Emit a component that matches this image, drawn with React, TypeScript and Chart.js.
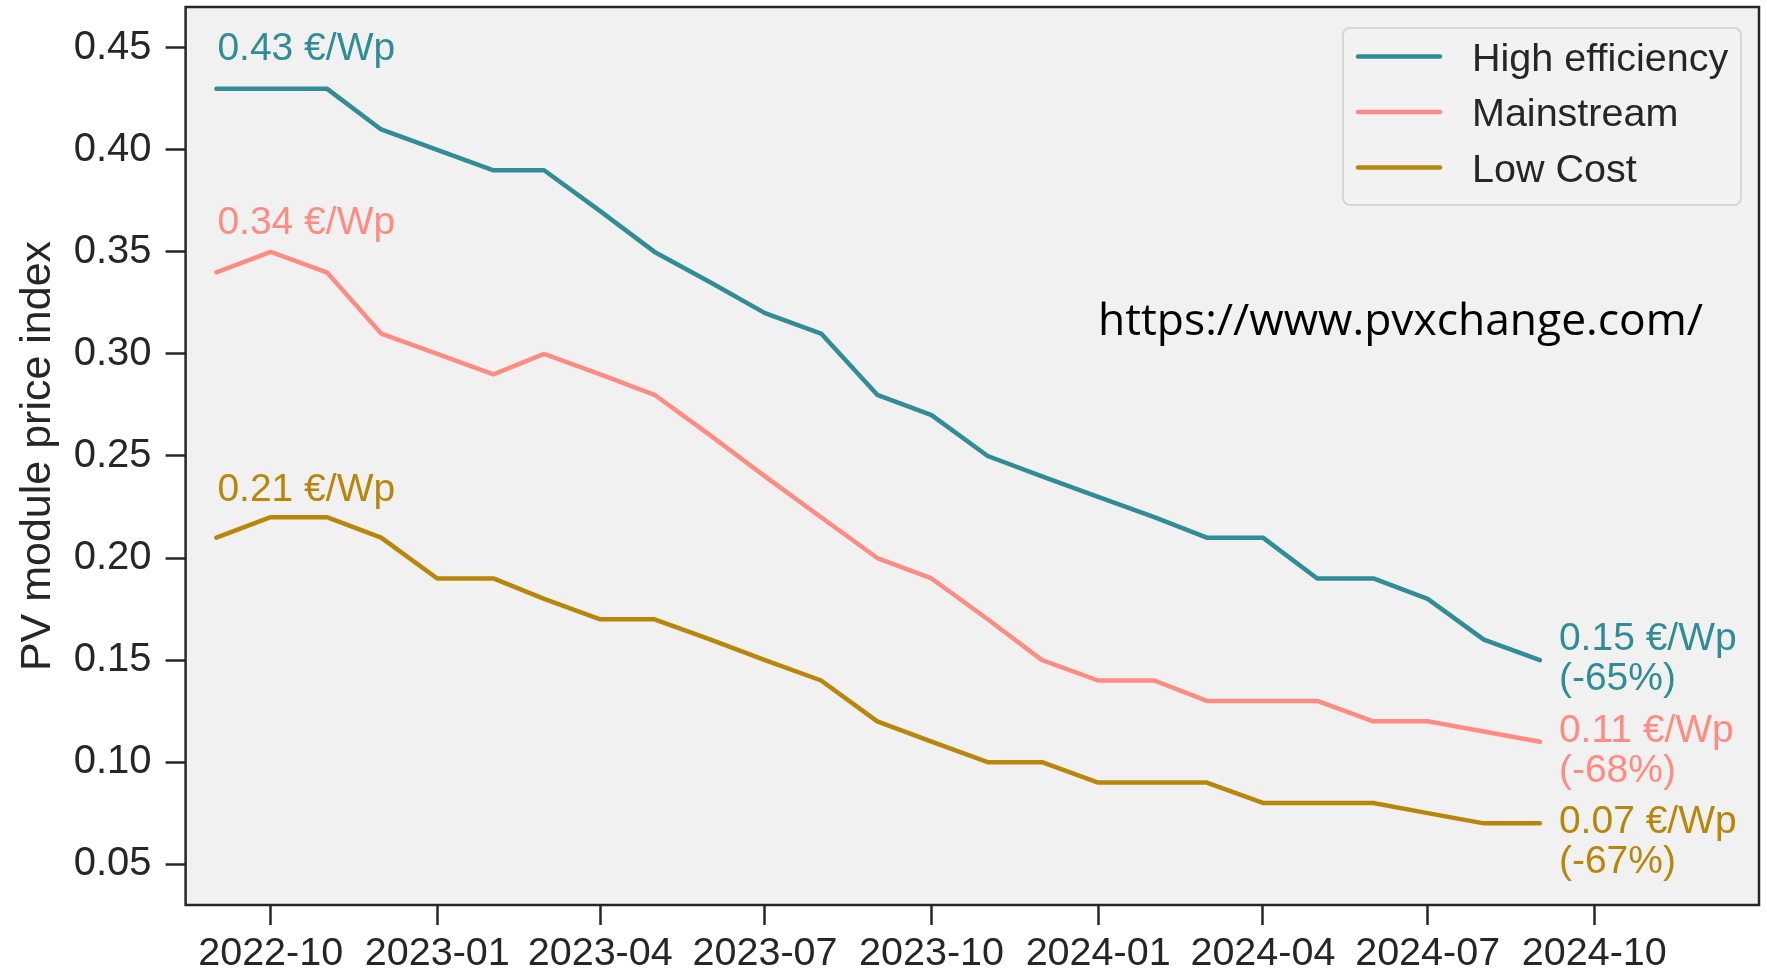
import React, { useEffect, useRef } from 'react';
import { Chart, registerables } from 'chart.js';

Chart.register(...registerables);

// ---- data ----
const months = [
  '2022-09', '2022-10', '2022-11', '2022-12',
  '2023-01', '2023-02', '2023-03', '2023-04', '2023-05', '2023-06',
  '2023-07', '2023-08', '2023-09', '2023-10', '2023-11', '2023-12',
  '2024-01', '2024-02', '2024-03', '2024-04', '2024-05', '2024-06',
  '2024-07', '2024-08', '2024-09',
];
const highEfficiency = [
  0.43, 0.43, 0.43, 0.41, 0.40, 0.39, 0.39, 0.37, 0.35, 0.335,
  0.32, 0.31, 0.28, 0.27, 0.25, 0.24, 0.23, 0.22, 0.21, 0.21,
  0.19, 0.19, 0.18, 0.16, 0.15,
];
const mainstream = [
  0.34, 0.35, 0.34, 0.31, 0.30, 0.29, 0.30, 0.29, 0.28, 0.26,
  0.24, 0.22, 0.20, 0.19, 0.17, 0.15, 0.14, 0.14, 0.13, 0.13,
  0.13, 0.12, 0.12, 0.115, 0.11,
];
const lowCost = [
  0.21, 0.22, 0.22, 0.21, 0.19, 0.19, 0.18, 0.17, 0.17, 0.16,
  0.15, 0.14, 0.12, 0.11, 0.10, 0.10, 0.09, 0.09, 0.09, 0.08,
  0.08, 0.08, 0.075, 0.07, 0.07,
];
const seriesNames = ['High efficiency', 'Mainstream', 'Low Cost'];
const seriesColors = ['#308c96', '#ff8c82', '#b8860b'];
const startLabels = ['0.43 €/Wp', '0.34 €/Wp', '0.21 €/Wp'];
const endLabels = [
  ['0.15 €/Wp', '(-65%)'],
  ['0.11 €/Wp', '(-68%)'],
  ['0.07 €/Wp', '(-67%)'],
];
const xTickLabels = [
  '2022-10', '2023-01', '2023-04', '2023-07', '2023-10',
  '2024-01', '2024-04', '2024-07', '2024-10',
];
const yTickValues = [0.05, 0.10, 0.15, 0.20, 0.25, 0.30, 0.35, 0.40, 0.45];
const yTitle = 'PV module price index';
const sourceText = 'https://www.pvxchange.com/';
const xRange = ['2022-08-15', '2024-12-31'];
const yRange = [0.03, 0.47];

const toTime = (s: string) => {
  const p = s.split('-').map(Number);
  return Date.UTC(p[0], p[1] - 1, p[2] || 1);
};

const FONT = '"Liberation Sans", Arial, Helvetica, sans-serif';
const INK = '#262626';

const seriesValues = [highEfficiency, mainstream, lowCost];

const bgPlugin = {
  id: 'plotBg',
  beforeDraw(chart: any) {
    const { ctx, chartArea: a } = chart;
    ctx.save();
    ctx.fillStyle = '#ffffff';
    ctx.fillRect(0, 0, chart.width, chart.height);
    ctx.fillStyle = '#f1f1f1';
    ctx.fillRect(a.left, a.top, a.right - a.left, a.bottom - a.top);
    ctx.restore();
  },
};

const overlayPlugin = {
  id: 'overlay',
  afterDatasetsDraw(chart: any) {
    const { ctx, chartArea: a, scales } = chart;
    const x = scales.x;
    const y = scales.y;
    ctx.save();

    // frame
    ctx.strokeStyle = INK;
    ctx.lineWidth = 2.5;
    ctx.strokeRect(a.left, a.top, a.right - a.left, a.bottom - a.top);

    // start / end annotations
    const startOffsets = [29, 38, 37];
    const endOffsets = [-10, 0, 10];
    const last = months.length - 1;
    ctx.font = `39px ${FONT}`;
    ctx.textAlign = 'left';
    ctx.textBaseline = 'alphabetic';
    seriesValues.forEach((vals, i) => {
      ctx.fillStyle = seriesColors[i];
      const sx = x.getPixelForValue(toTime(months[0])) + 1;
      const sy = y.getPixelForValue(vals[0]) - startOffsets[i];
      ctx.fillText(startLabels[i], sx, sy);
      const ex = x.getPixelForValue(toTime(months[last])) + 19;
      const ey = y.getPixelForValue(vals[last]) + endOffsets[i];
      ctx.fillText(endLabels[i][0], ex, ey);
      ctx.fillText(endLabels[i][1], ex, ey + 40);
    });

    // source text
    ctx.fillStyle = '#000000';
    ctx.font = `500 43px "Open Sans", "Noto Sans", sans-serif`;
    const w = ctx.measureText(sourceText).width;
    const targetW = 605;
    ctx.save();
    ctx.translate(a.left + 912.4, a.top + 328);
    ctx.scale(targetW / w, 1);
    ctx.fillText(sourceText, 0, 0);
    ctx.restore();

    // legend
    const bx = a.right - 416;
    const by = a.top + 21;
    const bw = 398;
    const bh = 177;
    ctx.beginPath();
    ctx.roundRect(bx, by, bw, bh, 7);
    ctx.fillStyle = 'rgba(242,242,242,0.85)';
    ctx.fill();
    ctx.strokeStyle = '#d6d6d6';
    ctx.lineWidth = 2;
    ctx.stroke();
    const rowYs = [28.5, 84, 139.5];
    ctx.font = `39.5px ${FONT}`;
    ctx.lineCap = 'round';
    seriesNames.forEach((name, i) => {
      const ry = by + rowYs[i];
      ctx.strokeStyle = seriesColors[i];
      ctx.lineWidth = 4.5;
      ctx.beginPath();
      ctx.moveTo(bx + 15, ry);
      ctx.lineTo(bx + 97, ry);
      ctx.stroke();
      ctx.fillStyle = INK;
      ctx.fillText(name, bx + 129, ry + 14);
    });

    ctx.restore();
  },
};

export default function App() {
  const ref = useRef<HTMLCanvasElement>(null);

  useEffect(() => {
    document.body.style.margin = '0';
    const canvas = ref.current;
    if (!canvas) return;

    const datasets = seriesValues.map((vals, i) => ({
      label: seriesNames[i],
      data: months.map((m, j) => ({ x: toTime(m), y: vals[j] })),
      borderColor: seriesColors[i],
      backgroundColor: seriesColors[i],
      borderWidth: 4.5,
      pointRadius: 0,
      tension: 0,
      borderCapStyle: 'round' as const,
      borderJoinStyle: 'round' as const,
      fill: false,
    }));

    const xTickValues = xTickLabels.map((l) => toTime(l));

    const chart = new Chart(canvas, {
      type: 'line',
      data: { datasets },
      options: {
        animation: false,
        responsive: true,
        maintainAspectRatio: false,
        layout: { padding: { left: 0, top: 7, right: 8, bottom: 0 } },
        plugins: {
          legend: { display: false },
          tooltip: { enabled: false },
        },
        scales: {
          x: {
            type: 'linear',
            min: toTime(xRange[0]),
            max: toTime(xRange[1]),
            afterBuildTicks: (scale: any) => {
              scale.ticks = xTickValues.map((v) => ({ value: v }));
            },
            afterFit: (scale: any) => {
              scale.height = 67;
              scale.paddingLeft = 0;
              scale.paddingRight = 0;
            },
            border: { display: false },
            grid: {
              display: true,
              drawOnChartArea: false,
              drawTicks: true,
              tickLength: 20,
              tickWidth: 2.5,
              tickColor: INK,
            },
            ticks: {
              autoSkip: false,
              maxRotation: 0,
              minRotation: 0,
              padding: 5,
              color: INK,
              font: { family: FONT, size: 39.5 },
              callback: (v: any) => {
                const idx = xTickValues.indexOf(Number(v));
                return idx >= 0 ? xTickLabels[idx] : '';
              },
            },
          },
          y: {
            type: 'linear',
            min: yRange[0],
            max: yRange[1],
            afterBuildTicks: (scale: any) => {
              scale.ticks = yTickValues.map((v) => ({ value: v }));
            },
            afterFit: (scale: any) => {
              scale.width = 185.6;
              scale.paddingTop = 0;
              scale.paddingBottom = 0;
            },
            border: { display: false },
            grid: {
              display: true,
              drawOnChartArea: false,
              drawTicks: true,
              tickLength: 20,
              tickWidth: 2.5,
              tickColor: INK,
            },
            ticks: {
              autoSkip: false,
              padding: 14,
              color: INK,
              font: { family: FONT, size: 40 },
              callback: (v: any) => Number(v).toFixed(2),
            },
            title: {
              display: true,
              text: yTitle,
              color: INK,
              font: { family: FONT, size: 43 },
              padding: { top: 12, bottom: 0 },
            },
          },
        },
      },
      plugins: [bgPlugin, overlayPlugin],
    });

    return () => chart.destroy();
  }, []);

  return (
    <div style={{ width: 1767, height: 972, position: 'relative' }}>
      <canvas ref={ref} />
    </div>
  );
}
